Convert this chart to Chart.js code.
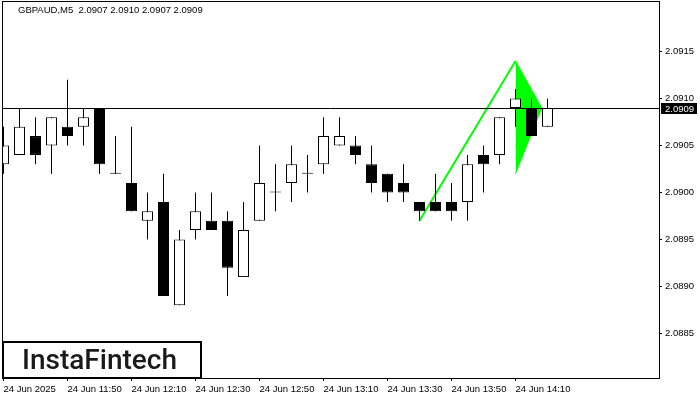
<!DOCTYPE html>
<html>
<head>
<meta charset="utf-8">
<script src="https://cdn.jsdelivr.net/npm/chart.js@4.4.0/dist/chart.umd.min.js"></script>
<style>
  html, body { margin: 0; padding: 0; background: #fff; }
  #wrap { width: 700px; height: 400px; }
</style>
</head>
<body>
<div id="wrap"><canvas id="chart" width="700" height="400"></canvas></div>
<script>
// GBPAUD M5 candles, 11:30 .. 14:20
const times = ['11:30','11:35','11:40','11:45','11:50','11:55','12:00','12:05','12:10','12:15','12:20','12:25',
               '12:30','12:35','12:40','12:45','12:50','12:55','13:00','13:05','13:10','13:15','13:20','13:25',
               '13:30','13:35','13:40','13:45','13:50','13:55','14:00','14:05','14:10','14:15','14:20'];
const opens  = [2.0903,2.0904,2.0906,2.0905,2.0907,2.0907,2.0909,2.0902,2.0901,2.0897,2.0899,2.0888,
                2.0896,2.0897,2.0897,2.0891,2.0897,2.0900,2.0901,2.0902,2.0903,2.0905,2.0905,2.0903,
                2.0902,2.0901,2.0899,2.0899,2.0899,2.0899,2.0904,2.0904,2.0909,2.0909,2.0907];
const highs  = [2.0907,2.0909,2.0908,2.0908,2.0912,2.0909,2.0909,2.0906,2.0907,2.0900,2.0902,2.0896,
                2.0900,2.0900,2.0898,2.0899,2.0905,2.0903,2.0905,2.0904,2.0908,2.0908,2.0906,2.0905,
                2.0902,2.0903,2.0899,2.0902,2.0901,2.0904,2.0905,2.0908,2.0911,2.0910,2.0910];
const lows   = [2.0902,2.0904,2.0903,2.0902,2.0905,2.0905,2.0902,2.0902,2.0898,2.0895,2.0889,2.0888,
                2.0895,2.0896,2.0889,2.0891,2.0897,2.0898,2.0899,2.0900,2.0902,2.0905,2.0903,2.0900,
                2.0899,2.0899,2.0897,2.0898,2.0897,2.0897,2.0900,2.0903,2.0907,2.0906,2.0907];
const closes = [2.0905,2.0907,2.0904,2.0908,2.0906,2.0908,2.0903,2.0902,2.0898,2.0898,2.0889,2.0895,
                2.0898,2.0896,2.0892,2.0896,2.0901,2.0900,2.0903,2.0902,2.0906,2.0906,2.0904,2.0901,
                2.0900,2.0900,2.0898,2.0898,2.0898,2.0903,2.0903,2.0908,2.0910,2.0906,2.0909];

const xTickIdx = [0, 4, 8, 12, 16, 20, 24, 28, 32];
const xTickLabels = ['24 Jun 2025','24 Jun 11:50','24 Jun 12:10','24 Jun 12:30','24 Jun 12:50',
                     '24 Jun 13:10','24 Jun 13:30','24 Jun 13:50','24 Jun 14:10'];
const yTickVals = [2.0885, 2.0890, 2.0895, 2.0900, 2.0905, 2.0910, 2.0915];

// bullish pennant
const poleX = [26, 32];
const poleY = [2.0897, 2.0914];
const flagX = [32, 33.64];
const flagTop = [2.0914, 2.0909];
const flagBottom = [2.0902, 2.0909];

const symbolText = 'GBPAUD,M5  2.0907 2.0910 2.0907 2.0909';
const lastPrice = closes[closes.length - 1];

const FONT = 'Liberation Sans';
const GREEN = '#00ff00';

const wickData = times.map((t, i) => ({ x: i, y: [lows[i], highs[i]] }));
const bodyData = times.map((t, i) => ({ x: i, y: [opens[i], closes[i]] }));
const bodyColors = times.map((t, i) => closes[i] > opens[i] ? '#ffffff' : '#000000');

// no extra room around the plot for the labels
function noPadding(scale) {
    scale.paddingLeft = 0;
    scale.paddingRight = 0;
    scale.paddingTop = 0;
    scale.paddingBottom = 0;
}

const framePlugin = {
    id: 'frame',
    afterDraw(chart) {
        const { ctx, chartArea: a, scales } = chart;
        ctx.save();
        // plot frame
        ctx.strokeStyle = '#000';
        ctx.lineWidth = 1;
        ctx.strokeRect(a.left + 0.5, a.top + 0.5, a.right - a.left, a.bottom - a.top);

        // bid line + price label
        const y = Math.round(scales.y.getPixelForValue(lastPrice)) + 0.5;
        ctx.beginPath();
        ctx.moveTo(a.left, y);
        ctx.lineTo(a.right, y);
        ctx.stroke();
        ctx.fillStyle = '#000';
        ctx.fillRect(a.right + 2, y - 5.5, 36, 11);
        ctx.fillStyle = '#fff';
        ctx.font = '9.5px "' + FONT + '"';
        ctx.textBaseline = 'middle';
        ctx.textAlign = 'left';
        ctx.fillText(lastPrice.toFixed(4), a.right + 6, y + 0.5);

        // header
        ctx.fillStyle = '#000';
        ctx.fillText(symbolText, 18, 10.5);

        // logo box
        ctx.fillStyle = '#fff';
        ctx.fillRect(3, 342, 198, 36);
        ctx.lineWidth = 2;
        ctx.strokeRect(3, 342, 198, 36);
        ctx.fillStyle = '#1a1a1a';
        ctx.font = '500 28px Roboto';
        ctx.textBaseline = 'alphabetic';
        ctx.fillText('InstaFintech', 22, 369);
        ctx.restore();
    }
};

new Chart(document.getElementById('chart').getContext('2d'), {
    data: {
        datasets: [
            {
                type: 'bar',
                label: 'body',
                data: bodyData,
                backgroundColor: bodyColors,
                borderColor: '#000',
                borderWidth: 1,
                borderSkipped: false,
                barThickness: 11,
                minBarLength: 1,
                inflateAmount: 0,
                grouped: false,
                order: 0
            },
            {
                type: 'bar',
                label: 'wick',
                data: wickData,
                backgroundColor: '#000',
                borderWidth: 0,
                barThickness: 1,
                inflateAmount: 0,
                grouped: false,
                order: 1
            },
            {
                type: 'line',
                label: 'pole',
                data: poleX.map((x, i) => ({ x: x, y: poleY[i] })),
                borderColor: GREEN,
                borderWidth: 2,
                pointRadius: 0,
                fill: false,
                order: 2
            },
            {
                type: 'line',
                label: 'flagTop',
                data: flagX.map((x, i) => ({ x: x, y: flagTop[i] })),
                borderColor: GREEN,
                borderWidth: 1,
                pointRadius: 0,
                fill: false,
                order: 2
            },
            {
                type: 'line',
                label: 'flagBottom',
                data: flagX.map((x, i) => ({ x: x, y: flagBottom[i] })),
                borderColor: GREEN,
                backgroundColor: GREEN,
                borderWidth: 1,
                pointRadius: 0,
                fill: '-1',
                order: 2
            }
        ]
    },
    options: {
        responsive: false,
        animation: false,
        events: [],
        layout: { padding: { left: 2, top: 1, right: 0, bottom: 0 } },
        plugins: {
            legend: { display: false },
            tooltip: { enabled: false }
        },
        scales: {
            x: {
                type: 'linear',
                offset: false,
                min: -0.09375,
                max: 40.96875,
                border: { display: false },
                grid: { drawOnChartArea: false, drawTicks: true, tickLength: 3, color: '#000', offset: false },
                ticks: {
                    color: '#000',
                    font: { family: FONT, size: 9.5 },
                    align: 'start',
                    padding: 3,
                    maxRotation: 0,
                    autoSkip: false,
                    callback: (v, i) => xTickLabels[i]
                },
                afterBuildTicks: scale => { scale.ticks = xTickIdx.map(v => ({ value: v })); },
                afterFit: scale => { scale.height = 22; noPadding(scale); }
            },
            y: {
                type: 'linear',
                position: 'right',
                min: 2.0880266,
                max: 2.0920372,
                border: { display: false },
                grid: { drawOnChartArea: false, drawTicks: true, tickLength: 3, color: '#000' },
                ticks: {
                    color: '#000',
                    font: { family: FONT, size: 9.5 },
                    padding: 3,
                    callback: v => v.toFixed(4)
                },
                afterBuildTicks: scale => { scale.ticks = yTickVals.map(v => ({ value: v })); },
                afterFit: scale => { scale.width = 41; noPadding(scale); }
            }
        }
    },
    plugins: [framePlugin]
});
</script>
</body>
</html>
